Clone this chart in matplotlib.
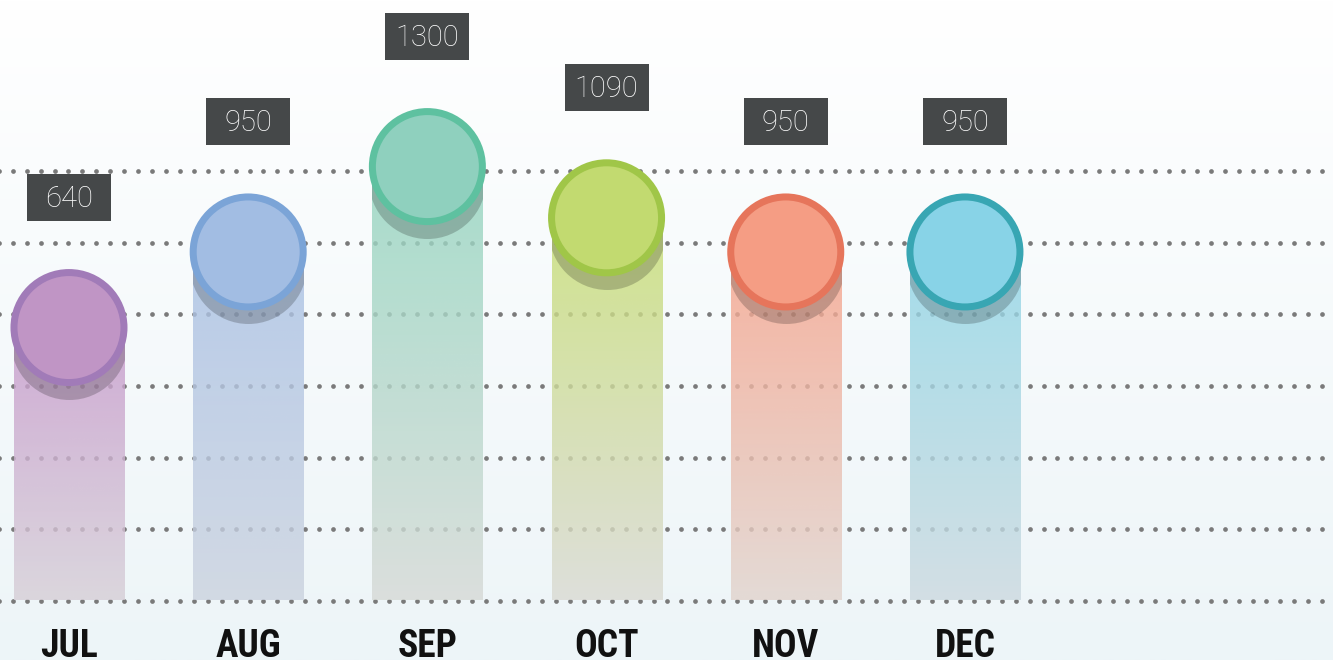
import matplotlib
matplotlib.use("Agg")
import matplotlib.pyplot as plt
import numpy as np
from matplotlib import transforms as mtransforms
from matplotlib import font_manager
from matplotlib.patches import Rectangle
from matplotlib.colors import to_rgb

# data
months = ["JUL", "AUG", "SEP", "OCT", "NOV", "DEC"]
values = [640, 950, 1300, 1090, 950, 950]

# colours
fill_colors = ["#c095c5", "#a2bde3", "#8fd0be", "#c2da70", "#f59d84", "#88d3e7"]
edge_colors = ["#a17bb8", "#7ba4d7", "#5ec1a0", "#a0c648", "#e6755b", "#38a6b3"]
bar_top_colors = ["#cfabd4", "#b7cbe9", "#a6dccb", "#cfe28c", "#f6b3a0", "#a3dcea"]
bar_bottom_colors = ["#dcd7de", "#d3dae4", "#dce0dd", "#dfe0db", "#e5dbd6", "#d4e0e5"]

W, H = 1333, 660
BAR_ALPHA = 0.8

fig = plt.figure(figsize=(W / 100, H / 100), dpi=100)

# background gradient + dotted guide lines (pixel coords)
bg = fig.add_axes([0, 0, 1, 1])
t = np.linspace(0, 1, 256)[:, None, None]
top, bot = np.array(to_rgb("#ffffff")), np.array(to_rgb("#edf5f8"))
bg.imshow(top + (bot - top) * t, extent=[0, W, H, 0], aspect="auto")
xs = np.arange(-1.2, W + 5, 13.93)
for gy in np.linspace(171, 601, 7):
    bg.plot(xs, np.full_like(xs, gy), "o", ms=3.4, color="#7a7a7a", mec="none")
bg.set_xlim(0, W)
bg.set_ylim(H, 0)
bg.axis("off")

# main axes on top
ax = fig.add_axes([0, 0, 1, 1])
ax.patch.set_alpha(0)
ax.axis("off")
x = np.arange(len(months))
base = -477


def see_through(c, back="#f3f8fa"):
    # colour that looks like c when drawn with BAR_ALPHA over back
    c, b = np.array(to_rgb(c)), np.array(to_rgb(back))
    return np.clip((c - (1 - BAR_ALPHA) * b) / BAR_ALPHA, 0, 1)


bars = ax.bar(x, np.array(values) - base, bottom=base, width=0.614,
              color="none", edgecolor="none")
shadow_trans = ax.transData + mtransforms.Affine2D().translate(0, -13)
for i, patch in enumerate(bars.patches):
    x0, y0 = patch.get_xy()
    c0, c1 = see_through(bar_top_colors[i]), see_through(bar_bottom_colors[i])
    g = np.linspace(0, 1, 200)[:, None, None]
    rgb = c0 + (c1 - c0) * g
    rgba = np.concatenate([rgb, np.full((200, 1, 1), BAR_ALPHA)], axis=2)
    im = ax.imshow(rgba, extent=[x0, x0 + patch.get_width(), y0, y0 + patch.get_height()],
                   aspect="auto", zorder=2)
    im.set_clip_path(patch)
    sh = ax.scatter([x[i]], [values[i]], s=(117 * 0.72) ** 2, color=(0, 0, 0, 0.2),
                    linewidths=0, zorder=3, transform=shadow_trans)
    sh.set_clip_path(patch)

ax.scatter(x, values, s=(110 * 0.72) ** 2, c=fill_colors, edgecolors=edge_colors,
           linewidths=7 * 0.72, zorder=4)

# value boxes
for xi, v in zip(x, values):
    tr = mtransforms.Affine2D() + mtransforms.ScaledTranslation(xi, v, ax.transData)
    ax.add_patch(Rectangle((-42, 130 - 23.5), 84, 47, transform=tr,
                           facecolor="#454849", edgecolor="none", zorder=5))
    ax.annotate(str(v), (xi, v), xytext=(0, 129), textcoords="offset pixels",
                ha="center", va="center", color="white", fontsize=21,
                fontweight="light", family=["Roboto", "DejaVu Sans"], zorder=6)

# month labels in a condensed bold face if one exists
names = {f.name for f in font_manager.fontManager.ttflist}
cond = "DejaVu Sans"
for cand in ["Roboto Condensed", "Open Sans Condensed", "Liberation Sans Narrow"]:
    if cand in names:
        cond = cand
        break
blend = mtransforms.blended_transform_factory(ax.transData, ax.transAxes)
for xi, m in zip(x, months):
    ax.text(xi, 1 - 628 / H, m, transform=blend, ha="center", va="top",
            fontsize=27, fontweight="bold", family=cond, fontstretch="condensed",
            color="#111111")

ax.set_xlim(-0.385, 7.054)
ax.set_ylim(-723, 1983)

fig.savefig("out.png", dpi=100)
